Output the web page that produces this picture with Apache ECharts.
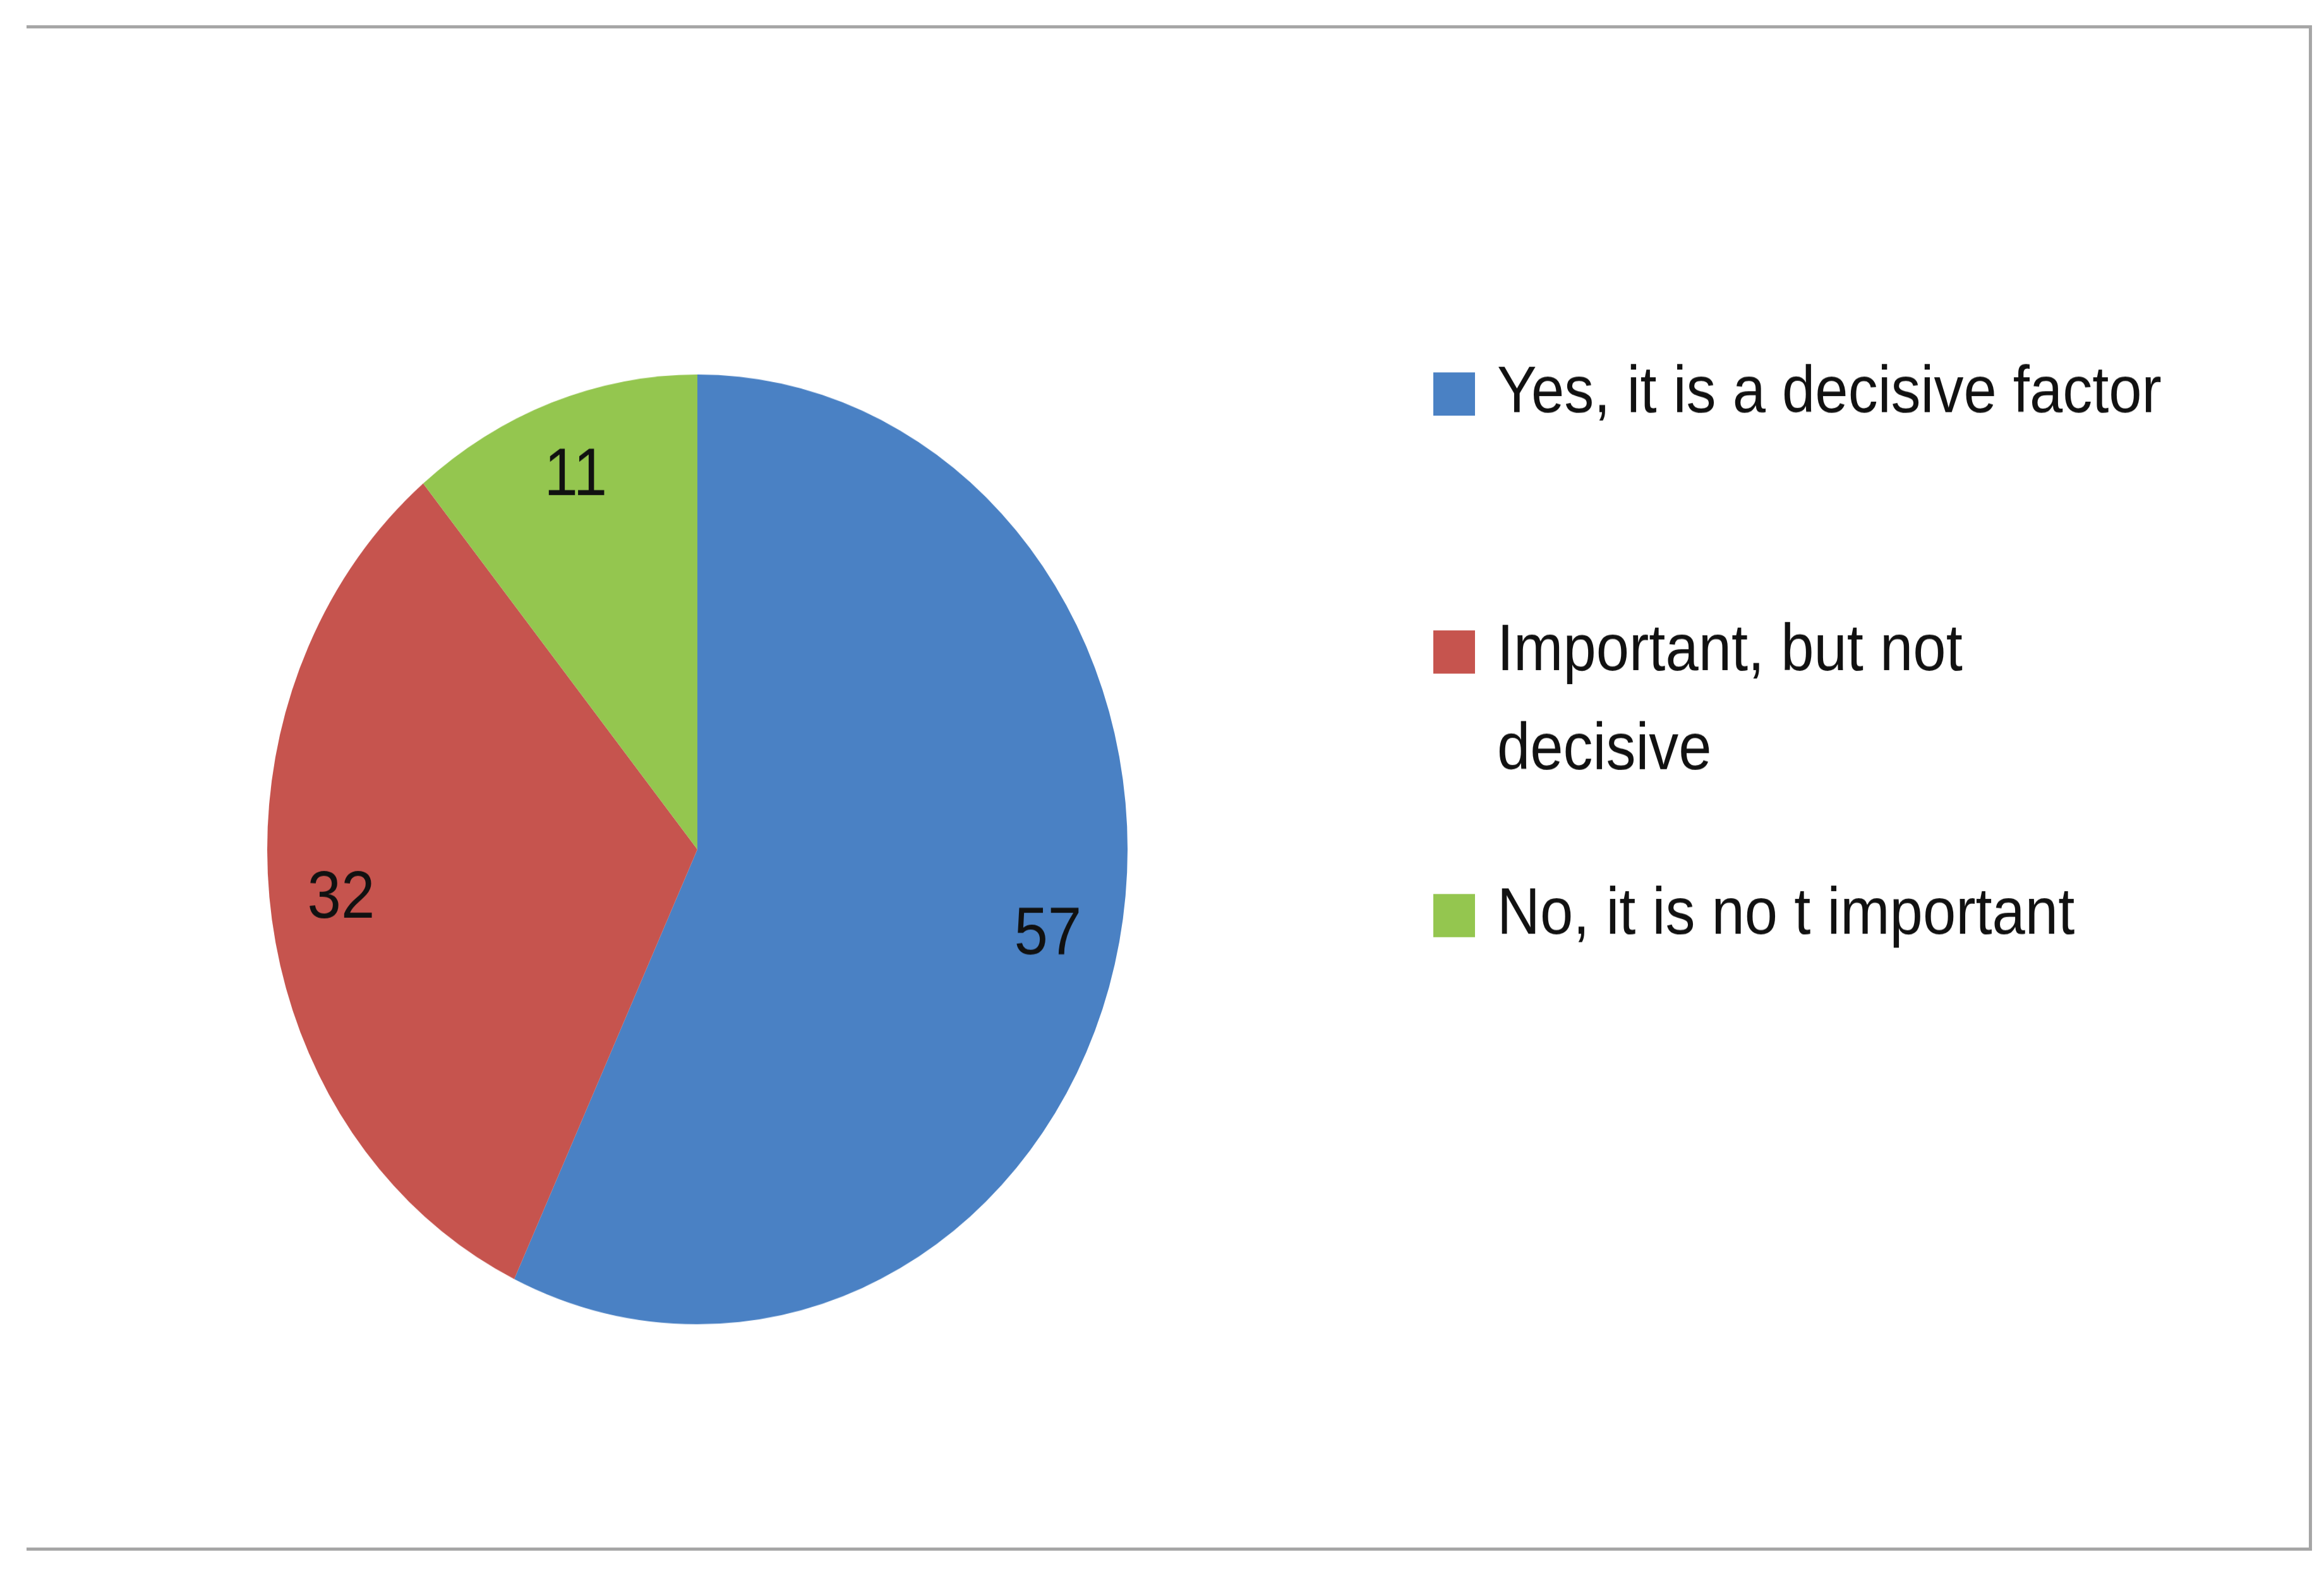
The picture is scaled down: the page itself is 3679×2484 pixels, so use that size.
<!DOCTYPE html>
<html>
<head>
<meta charset="utf-8">
<script src="https://cdn.jsdelivr.net/npm/echarts@6/dist/echarts.min.js"></script>
<style>
  html, body { margin: 0; padding: 0; background: #fff; overflow: hidden; }
  #frame { position: absolute; left: 42px; top: 40px; width: 3613px; height: 2405px;
           border-top: 5px solid #a6a6a6; border-right: 5px solid #a6a6a6; border-bottom: 5px solid #a6a6a6; }
  #chart { position: absolute; left: 0; top: 0; width: 3679px; height: 2250px;
           transform-origin: 0 0; transform: scaleY(1.104); }
</style>
</head>
<body>
<div id="frame"></div>
<div id="chart"></div>
<script>
const categories = ['Yes, it is a decisive factor', 'Important, but not decisive', 'No, it is no t important'];
const values = [57, 32, 11];
const colors = ['#4a81c4', '#c6544e', '#94c64f'];

const font = 'Liberation Sans';
const pieData = categories.map((name, i) => ({ name, value: values[i], itemStyle: { color: colors[i] } }));

const legendTops = [513, 883, 1261];
const legends = categories.map((name, i) => ({
  orient: 'vertical',
  left: 2264,
  top: legendTops[i],
  itemWidth: 66,
  itemHeight: 62,
  icon: 'rect',
  selectedMode: false,
  data: [name],
  formatter: n => (n === 'Important, but not decisive' ? 'Important, but not' : n),
  textStyle: { fontFamily: font, fontSize: 94, color: '#111', padding: [0, 0, 0, 30] }
}));

const chart = echarts.init(document.getElementById('chart'));
chart.setOption({
  animation: false,
  legend: legends,
  graphic: [{
    type: 'text', left: 2370, top: 1030,
    style: { text: 'decisive', font: '94px "' + font + '"', fill: '#111' }
  }],
  series: [
    {
      type: 'pie',
      center: [1104, 1218],
      radius: [0, 681],
      startAngle: 90,
      clockwise: true,
      data: pieData,
      label: { show: false },
      labelLine: { show: false },
      itemStyle: { borderWidth: 0 },
      emphasis: { disabled: true }
    },
    {
      type: 'pie',
      center: [1104, 1218],
      radius: [450, 681],
      startAngle: 90,
      clockwise: true,
      silent: true,
      legendHoverLink: false,
      data: categories.map((name, i) => ({ name, value: values[i], itemStyle: { color: 'rgba(0,0,0,0)' } })),
      label: { show: true, position: 'inside', formatter: '{c}', fontFamily: font, fontSize: 96, color: '#111' },
      labelLine: { show: false },
      emphasis: { disabled: true }
    }
  ]
});
</script>
</body>
</html>
